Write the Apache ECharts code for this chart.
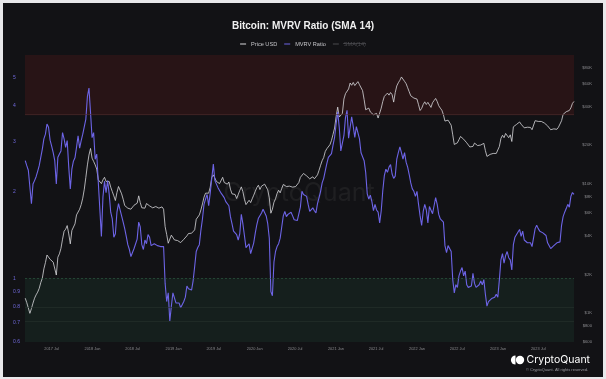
<!DOCTYPE html>
<html><head><meta charset="utf-8">
<script src="https://cdn.jsdelivr.net/npm/echarts@6/dist/echarts.min.js"></script>
<style>
html,body{margin:0;padding:0;background:#e8e8ea;overflow:hidden;}
#wrap{position:relative;width:606px;height:379px;}
#chart{position:absolute;left:0;top:0;width:606px;height:379px;}
#frame{position:absolute;left:0;top:0;width:606px;height:379px;box-sizing:border-box;border:3px solid #e8e8ea;border-bottom-width:2px;pointer-events:none;}
</style></head><body>
<div id="wrap"><div id="chart"></div><div id="frame"></div></div>
<script>
// ---- data (weekly samples) ----
const seriesStart = '2017-03-04';
const stepDays = 7;

const mvrv = [
2.57,2.47,2.38,2.08,1.82,2.13,2.19,2.26,2.36,2.47,
2.64,2.82,3.06,3.18,3.45,3.36,3.03,2.89,2.74,2.57,
2.13,2.64,2.71,2.78,3.22,3.06,2.86,3.02,2.44,2.05,
2.40,2.56,2.63,2.86,3.14,2.84,3.02,3.18,3.14,3.59,
4.30,4.60,3.79,3.09,3.22,2.60,2.71,2.16,2.13,1.40,
1.92,2.18,1.99,2.19,1.97,1.70,1.61,1.39,
1.43,1.70,1.82,1.84,1.65,1.57,1.49,1.40,1.31,1.26,
1.19,1.23,1.27,1.28,1.37,1.57,1.51,1.31,1.26,1.36,
1.32,1.42,1.39,1.30,1.30,1.32,1.31,1.30,1.31,1.29,
1.31,1.29,0.96,0.83,0.89,0.71,0.80,0.89,0.88,0.82,
0.81,0.82,0.79,0.79,0.83,0.86,0.94,0.92,0.93,0.91,
0.98,1.10,1.24,1.28,1.31,1.47,1.61,1.81,1.89,1.96,
1.79,1.98,2.23,2.50,2.19,2.16,2.07,2.07,1.98,1.97,
1.91,1.85,1.86,1.79,1.64,1.55,1.46,1.44,1.42,1.36,
1.43,1.67,1.55,1.41,1.28,1.28,1.32,1.22,1.22,1.33,
1.44,1.54,1.62,1.60,1.69,1.74,1.74,1.65,1.55,1.38,
0.90,0.87,1.14,1.24,1.29,1.32,1.38,1.51,1.65,1.71,
1.64,1.67,1.65,1.70,1.65,1.60,1.59,1.59,1.60,1.77,
2.01,1.96,1.94,1.93,1.81,1.71,1.70,1.76,1.72,1.69,
1.82,1.91,2.01,2.15,2.23,2.37,2.51,2.64,2.68,2.72,
2.91,3.10,3.45,3.80,3.36,2.78,2.78,3.14,3.63,3.85,
3.08,3.36,3.65,3.38,3.10,3.38,3.36,3.06,2.74,2.75,
2.57,2.34,1.97,1.89,1.95,1.85,1.72,1.81,1.73,1.70,
1.56,1.72,2.02,2.28,2.40,2.34,2.44,2.49,2.31,2.23,
2.27,2.60,2.74,2.87,2.74,2.60,2.74,2.54,2.44,2.30,
2.15,2.05,2.01,1.93,2.01,1.81,1.65,1.53,1.71,1.81,
1.73,1.56,1.78,1.77,1.68,1.79,1.91,1.81,1.67,1.61,
1.61,1.57,1.30,1.23,1.30,1.32,1.24,0.99,0.89,0.95,
0.93,1.02,1.06,1.09,1.02,1.06,0.95,0.93,0.92,0.94,
1.04,0.96,0.93,0.92,0.95,0.98,0.95,0.99,0.88,
0.80,0.83,0.84,0.85,0.85,0.86,0.88,0.86,0.99,1.16,
1.22,1.13,1.20,1.24,1.18,1.16,1.07,1.31,1.39,1.40,
1.45,1.48,1.40,1.46,1.36,1.38,1.33,1.34,1.33,1.29,
1.29,1.49,1.53,1.49,1.46,1.47,1.44,1.45,1.41,1.33,
1.31,1.27,1.26,1.30,1.30,1.33,1.33,1.34,1.53,1.64,
1.70,1.75,1.81,1.77,1.93,1.99,1.96
];

// Price in thousands of USD
const priceK = [
1.31,1.21,1.25,1.00,1.09,1.20,1.31,1.39,1.46,1.56,
1.73,1.87,2.21,2.47,2.83,2.92,2.62,2.65,2.49,2.55,
1.98,2.72,2.89,3.19,3.75,4.32,4.48,4.78,4.12,3.45,
4.38,4.28,4.93,5.78,5.96,6.40,6.95,7.79,9.15,11.3,
14.1,16.8,18.9,15.9,15.0,14.1,13.1,10.8,10.9,10.1,
10.8,11.3,10.5,10.2,10.5,9.48,8.77,8.12,
7.47,8.62,9.59,9.82,8.42,7.65,6.83,7.03,6.52,6.56,
6.40,6.52,6.87,6.95,7.12,8.12,7.20,6.56,6.71,6.52,
7.08,7.30,6.79,6.71,6.56,6.64,6.71,6.64,6.52,6.52,
6.67,6.40,4.69,4.07,3.49,3.39,4.03,3.93,3.70,3.66,
3.66,3.57,3.53,3.62,3.74,3.83,3.98,4.15,4.07,4.17,
4.30,4.43,5.35,5.53,5.78,6.32,7.03,7.93,8.52,8.42,
8.52,9.48,11.3,11.8,11.5,10.5,10.5,10.1,10.4,11.3,
10.3,10.4,10.0,10.4,9.15,8.42,8.17,8.32,7.74,7.89,
8.93,9.53,8.77,7.65,6.95,7.03,7.51,7.20,7.70,8.22,
8.82,9.42,9.82,9.09,9.65,10.0,10.0,9.65,9.04,7.84,
5.96,6.40,7.25,7.70,8.47,8.98,8.57,9.26,9.94,9.94,
9.59,9.31,9.65,9.82,9.48,9.53,9.59,9.88,10.3,11.3,
11.5,12.1,11.8,11.6,11.6,11.0,10.7,11.4,11.0,10.8,
11.8,12.8,14.0,15.2,16.1,17.9,18.8,19.2,20.2,21.8,
24.3,27.2,33.5,39.5,33.1,33.5,35.3,45.6,50.2,50.7,
54.6,60.7,58.3,61.3,58.0,59.4,62.2,58.9,59.8,53.0,
45.1,37.7,37.4,38.8,36.2,37.1,34.5,34.1,35.3,32.5,
32.5,38.8,43.7,47.8,48.1,50.7,48.9,51.2,49.3,43.2,
51.2,57.6,61.0,63.7,67.6,66.3,62.5,60.0,55.8,51.9,
48.3,49.3,46.4,45.6,45.6,41.2,37.2,38.6,41.4,43.4,
41.4,43.0,43.0,39.3,42.7,44.4,46.1,43.7,40.5,38.8,
37.4,34.5,30.8,29.9,31.3,30.6,28.6,24.1,20.3,20.2,
20.9,22.1,23.4,24.0,22.3,22.6,20.9,20.4,19.4,19.9,
19.6,20.8,20.1,19.9,20.0,20.1,19.7,20.7,18.2,
16.4,16.8,17.0,17.1,17.3,16.9,17.3,17.3,19.6,22.6,
23.9,22.9,24.7,24.0,22.9,24.1,21.4,27.8,28.8,29.0,
29.5,30.3,29.1,28.3,27.3,27.8,27.6,27.0,27.5,26.4,
25.8,31.0,31.3,30.6,29.9,30.6,29.9,29.7,29.3,28.3,
27.5,26.4,26.3,26.8,26.6,26.6,27.6,28.0,31.0,34.7,
35.8,36.4,37.4,37.2,39.0,42.2,43.7
];

const xRange = ['2017-03-03', '2023-12-09'];
const xTickDates = ['2017-07-01','2018-01-01','2018-07-01','2019-01-01','2019-07-01','2020-01-01','2020-07-01',
  '2021-01-01','2021-07-01','2022-01-01','2022-07-01','2023-01-01','2023-07-01'];
const mvrvRange = [0.6, 6];
const mvrvTicks = [0.6, 0.7, 0.8, 0.9, 1, 2, 3, 4, 5];
const priceRange = [600, 100000];
const priceTicks = [600, 800, 1000, 2000, 4000, 6000, 8000, 10000, 20000, 40000, 60000, 80000];
const highZone = [3.7, 6];
const lowZone = [0.6, 1];
const guideLevels = [0.7, 0.8];
const legendNames = ['Price USD', 'MVRV Ratio', 'SMA(14)'];

// ---- build ----
const DAY = 86400000;
const lg = Math.log10;
const ts = s => Date.parse(s + 'T00:00:00Z');
const t0 = ts(seriesStart);
const mvrvData = mvrv.map((v, i) => [t0 + i * stepDays * DAY, lg(v)]);
const priceData = priceK.map((v, i) => [t0 + i * stepDays * DAY, lg(v * 1000)]);
const MONTHS = ['Jan','Feb','Mar','Apr','May','Jun','Jul','Aug','Sep','Oct','Nov','Dec'];
const FONT = 'Liberation Sans, Arial, sans-serif';

const chart = echarts.init(document.getElementById('chart'), null, {renderer: 'canvas'});
chart.setOption({
  backgroundColor: '#121215',
  animation: false,
  title: {
    text: 'Bitcoin: MVRV Ratio (SMA 14)', left: 'center', top: 16,
    textStyle: {color: '#f0f0f0', fontSize: 10, fontWeight: 'bold', fontFamily: FONT}
  },
  legend: {
    top: 36, left: 'center', icon: 'rect', itemWidth: 6, itemHeight: 1, itemGap: 7,
    data: legendNames, selected: {'SMA(14)': false}, inactiveColor: '#4a4a4e',
    textStyle: {color: '#c4c4c8', fontSize: 5.6, fontFamily: FONT}
  },
  grid: {left: 25, right: 32, top: 55, bottom: 37},
  xAxis: {
    type: 'value', min: ts(xRange[0]), max: ts(xRange[1]),
    axisLine: {show: false}, axisTick: {show: false}, splitLine: {show: false},
    axisLabel: {
      customValues: xTickDates.map(ts),
      formatter: v => { const d = new Date(v); return d.getUTCFullYear() + ' ' + MONTHS[d.getUTCMonth()]; },
      color: '#8a8a8e', fontSize: 3.9, margin: 5, fontFamily: FONT
    }
  },
  yAxis: [{
    type: 'value', position: 'left', min: lg(mvrvRange[0]), max: lg(mvrvRange[1]),
    axisLine: {show: false}, axisTick: {show: false}, splitLine: {show: false},
    axisLabel: {
      customValues: mvrvTicks.map(lg),
      formatter: v => String(parseFloat(Math.pow(10, v).toFixed(1))),
      color: '#7069dc', fontSize: 5, align: 'left', margin: 12, fontFamily: FONT
    }
  }, {
    type: 'value', position: 'right', min: lg(priceRange[0]), max: lg(priceRange[1]),
    axisLine: {show: false}, axisTick: {show: false}, splitLine: {show: false},
    axisLabel: {
      customValues: priceTicks.map(lg),
      formatter: v => { const p = Math.round(Math.pow(10, v)); return p >= 1000 ? '$' + (p / 1000) + 'K' : '$' + p; },
      color: '#8a8a8e', fontSize: 4.2, align: 'right', margin: 18, fontFamily: FONT
    }
  }],
  graphic: [
    {type: 'text', x: 299, y: 193, z: 1, silent: true,
     style: {text: 'CryptoQuant', fill: 'rgba(255,255,255,0.055)', font: '25px Inter, sans-serif', textAlign: 'center', textVerticalAlign: 'middle'}},
    {type: 'line', shape: {x1: 343, y1: 43.5, x2: 366, y2: 43.5}, style: {stroke: '#55555a', lineWidth: 0.6}, z: 10, silent: true},
    {type: 'sector', shape: {cx: 515.5, cy: 360, r0: 0, r: 4.6, startAngle: Math.PI / 2, endAngle: Math.PI * 1.5, clockwise: true},
     style: {fill: '#ffffff'}, z: 10},
    {type: 'circle', shape: {cx: 520, cy: 360, r: 4.2}, style: {fill: '#ffffff'}, z: 10},
    {type: 'text', x: 526.5, y: 360, z: 10,
     style: {text: 'CryptoQuant', fill: '#ffffff', font: '10.5px Inter, sans-serif', textAlign: 'left', textVerticalAlign: 'middle'}},
    {type: 'text', x: 588, y: 369.5, z: 10,
     style: {text: '\u00a9 CryptoQuant. All rights reserved.', fill: '#9a9aa0', font: '4px ' + FONT, textAlign: 'right', textVerticalAlign: 'middle'}}
  ],
  series: [{
    name: 'Price USD', type: 'line', yAxisIndex: 1, data: priceData, showSymbol: false,
    color: '#d8d8dc', lineStyle: {width: 0.8, color: '#d8d8dc'}, z: 3
  }, {
    name: 'MVRV Ratio', type: 'line', yAxisIndex: 0, data: mvrvData, showSymbol: false,
    color: '#6d64e6', lineStyle: {width: 1.1, color: '#6d64e6'}, z: 4,
    markArea: {silent: true, data: [
      [{yAxis: lg(highZone[0]), itemStyle: {color: 'rgba(128,28,30,0.2)'}}, {yAxis: lg(highZone[1])}],
      [{yAxis: lg(lowZone[0]), itemStyle: {color: 'rgba(40,110,80,0.15)'}}, {yAxis: lg(lowZone[1])}]
    ]},
    markLine: {silent: true, symbol: 'none', label: {show: false}, data: [
      {yAxis: lg(lowZone[1]), lineStyle: {color: '#2f6247', width: 0.6, type: [2, 2]}},
      {yAxis: lg(highZone[0]), lineStyle: {color: '#4a2a2c', width: 0.6, type: 'solid'}}
    ].concat(guideLevels.map(g => ({yAxis: lg(g), lineStyle: {color: '#26332e', width: 0.6, type: 'solid'}})))}
  }, {
    name: 'SMA(14)', type: 'line', yAxisIndex: 0, data: [], color: '#777'
  }]
});
</script>
</body></html>
